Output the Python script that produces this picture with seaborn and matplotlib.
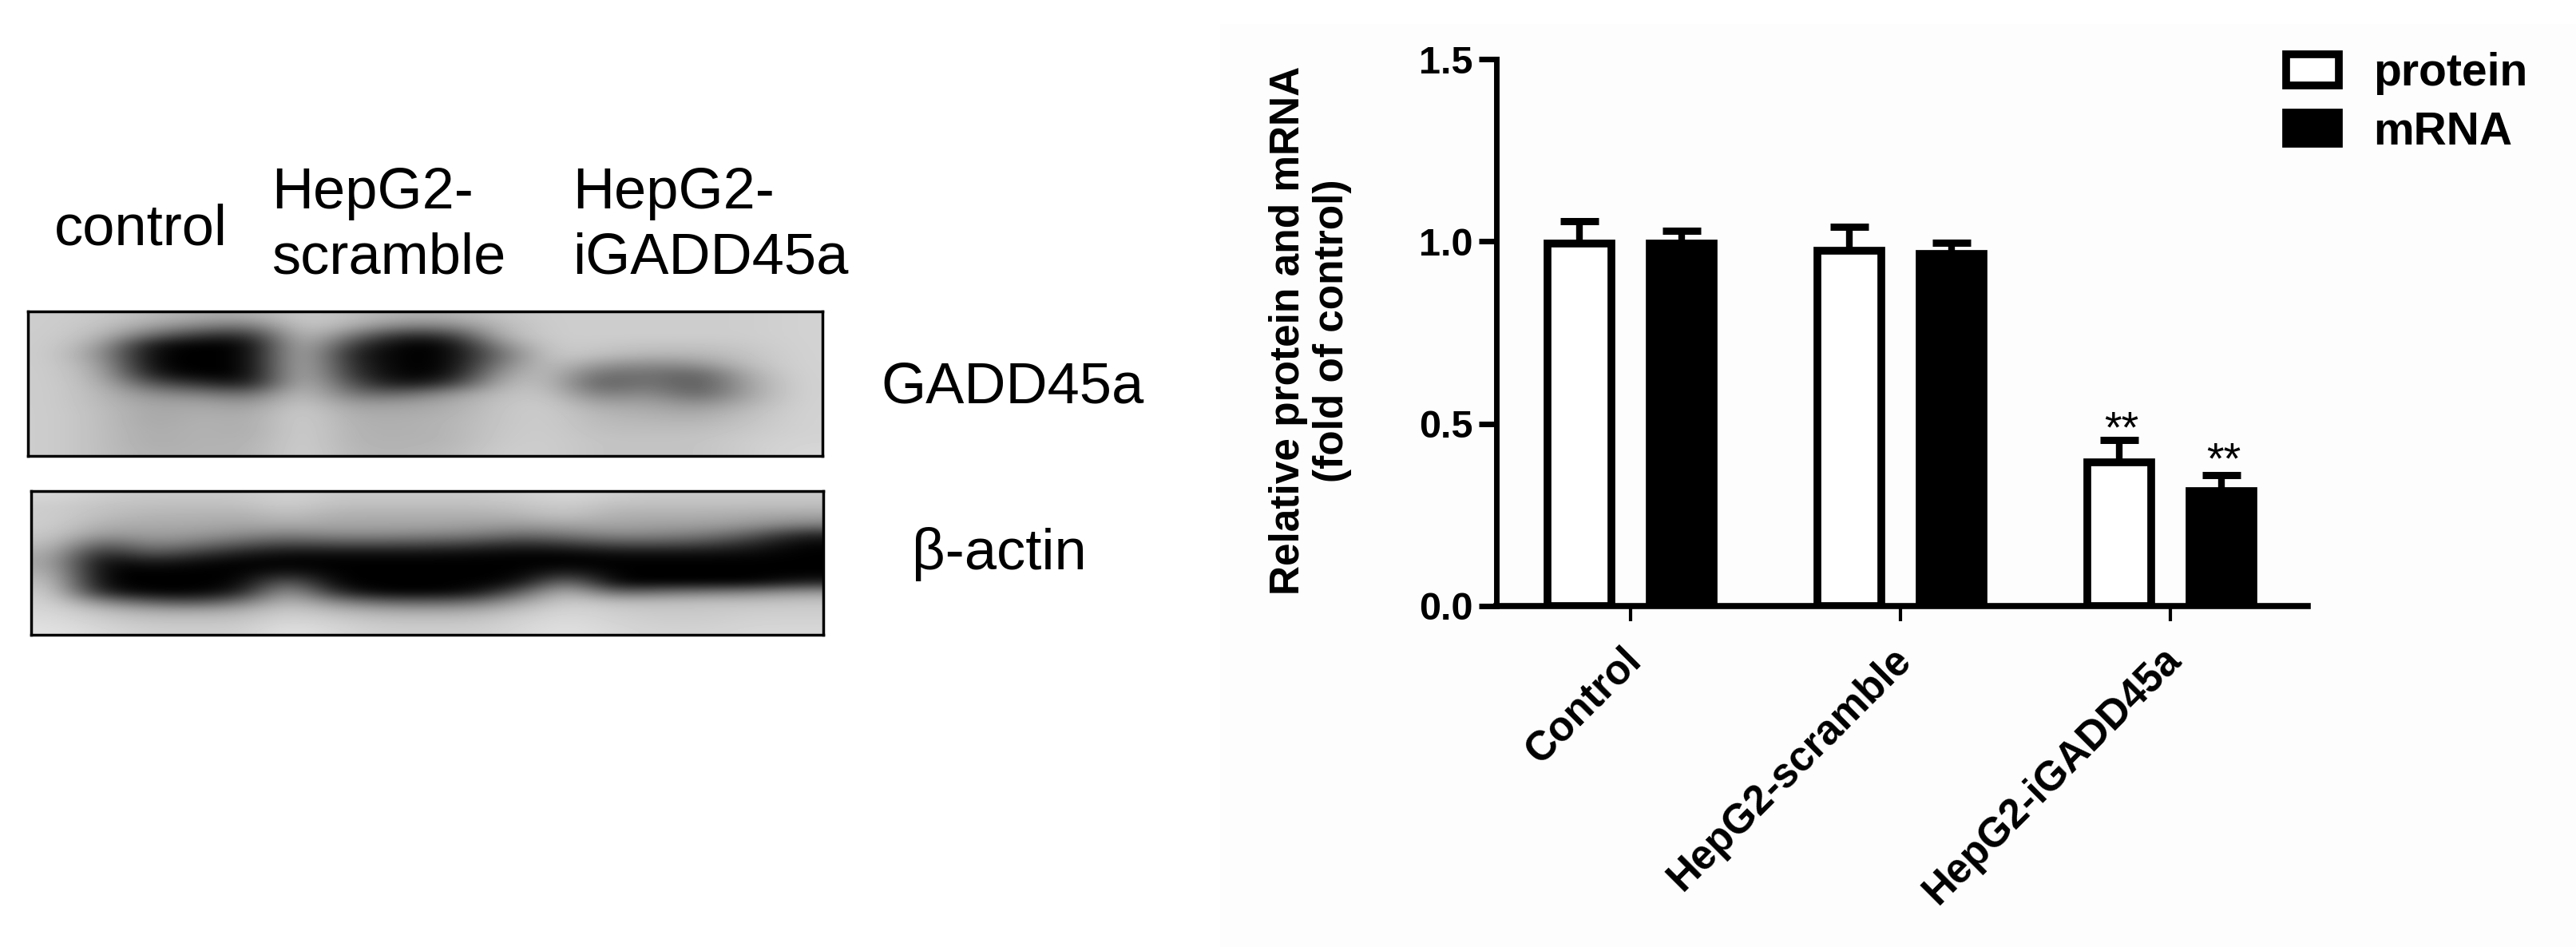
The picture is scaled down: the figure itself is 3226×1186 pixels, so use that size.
import numpy as np
import pandas as pd
import matplotlib
matplotlib.use('Agg')
import matplotlib.pyplot as plt
from matplotlib.patches import Rectangle
from matplotlib.transforms import ScaledTranslation
import seaborn as sns

# >> bar values
groups = ['Control', 'HepG2-scramble', 'HepG2-iGADD45a']
protein = [0.995, 0.975, 0.395]
mrna = [0.995, 0.965, 0.315]
protein_top = [1.055, 1.04, 0.455]
mrna_top = [1.03, 0.997, 0.36]
series = ['protein', 'mRNA']
y_ticks = [0.0, 0.5, 1.0, 1.5]
y_label = 'Relative protein and mRNA\n(fold of control)'
star_text = '**'

# >> blot grey levels (0 black, 255 white)
gadd_blot = [
    [205, 200, 185, 170, 170, 205, 190, 175, 175, 195, 205, 205, 205, 205, 205, 210],
    [205, 195, 160, 130, 110, 205, 175, 130, 130, 185, 205, 205, 205, 205, 205, 210],
    [205, 185, 100, 50, 40, 205, 120, 40, 50, 180, 205, 205, 205, 205, 205, 210],
    [205, 165, 10, 0, 0, 205, 60, 0, 0, 140, 205, 200, 195, 195, 200, 210],
    [205, 150, 0, 0, 0, 205, 30, 0, 0, 110, 205, 190, 180, 180, 195, 210],
    [205, 165, 0, 0, 0, 205, 40, 0, 0, 130, 200, 150, 140, 145, 190, 210],
    [205, 175, 20, 0, 0, 205, 50, 0, 5, 160, 195, 105, 120, 90, 175, 210],
    [205, 180, 80, 50, 15, 205, 80, 15, 50, 180, 195, 85, 125, 80, 165, 210],
    [205, 185, 135, 125, 95, 205, 110, 95, 145, 190, 200, 115, 145, 90, 165, 210],
    [205, 185, 160, 165, 145, 205, 150, 155, 170, 195, 205, 155, 165, 135, 175, 210],
    [205, 190, 165, 175, 165, 210, 170, 170, 175, 198, 205, 180, 175, 165, 190, 210],
    [205, 190, 165, 180, 170, 210, 175, 175, 180, 198, 205, 185, 185, 180, 195, 210],
    [205, 190, 170, 180, 170, 210, 178, 175, 180, 200, 205, 190, 190, 190, 200, 210],
    [205, 190, 170, 180, 175, 210, 178, 178, 180, 202, 205, 195, 195, 195, 205, 212],
    [205, 190, 175, 180, 178, 210, 182, 180, 185, 205, 205, 195, 195, 195, 205, 215],
]
actin_blot = [
    [215, 205, 200, 200, 200, 210, 200, 200, 200, 200, 205, 215, 205, 200, 200, 200, 200],
    [205, 195, 190, 190, 190, 205, 190, 190, 190, 190, 195, 205, 190, 190, 190, 190, 190],
    [205, 190, 180, 180, 175, 190, 175, 175, 175, 175, 180, 195, 175, 175, 175, 170, 165],
    [205, 175, 170, 170, 165, 170, 165, 165, 165, 160, 155, 165, 165, 160, 160, 150, 130],
    [200, 150, 160, 155, 140, 130, 140, 140, 135, 130, 110, 125, 140, 135, 125, 95, 40],
    [190, 90, 135, 120, 90, 70, 80, 80, 75, 65, 45, 60, 80, 80, 70, 40, 5],
    [175, 30, 90, 60, 30, 15, 15, 15, 15, 10, 5, 5, 15, 15, 15, 10, 0],
    [170, 0, 25, 10, 0, 0, 0, 0, 0, 0, 0, 0, 0, 0, 0, 0, 0],
    [180, 0, 0, 0, 0, 30, 0, 0, 0, 0, 0, 40, 0, 0, 0, 0, 0],
    [195, 0, 0, 0, 0, 110, 0, 0, 0, 0, 10, 130, 0, 0, 0, 0, 30],
    [205, 30, 0, 0, 25, 170, 40, 0, 0, 10, 90, 190, 90, 110, 120, 130, 150],
    [210, 130, 90, 70, 110, 190, 130, 95, 90, 100, 160, 205, 185, 185, 190, 190, 195],
    [215, 190, 170, 165, 175, 205, 185, 170, 165, 170, 195, 215, 205, 200, 200, 205, 205],
    [220, 205, 195, 195, 195, 215, 205, 195, 195, 195, 210, 220, 210, 205, 205, 210, 210],
    [225, 215, 205, 205, 205, 225, 215, 205, 205, 205, 215, 225, 215, 210, 210, 215, 215],
]
lane_names = ['control', 'HepG2-\nscramble', 'HepG2-\niGADD45a']
blot_names = ['GADD45a', '\u03b2-actin']

W, H = 3226, 1186
sns.set_theme(style='ticks')
plt.rcParams['font.family'] = ['Liberation Sans', 'DejaVu Sans']
plt.rcParams['text.color'] = 'black'
plt.rcParams['axes.labelcolor'] = 'black'
plt.rcParams['xtick.labelcolor'] = 'black'
plt.rcParams['ytick.labelcolor'] = 'black'
plt.rcParams['axes.edgecolor'] = 'black'

fig = plt.figure(figsize=(W / 100, H / 100), dpi=100, facecolor='white')


def box(x0, y0, x1, y1):
    return [x0 / W, 1 - y1 / H, (x1 - x0) / W, (y1 - y0) / H]


# very faint panel behind the bar chart
fig.add_artist(Rectangle((1528 / W, 0), 1 - 1528 / W, 1 - 30 / H, transform=fig.transFigure,
                         facecolor='#fdfdfd', edgecolor='none', zorder=-5))

# >> blots
for grid, pos in [(gadd_blot, (35, 390, 1030, 571)), (actin_blot, (39, 615, 1031, 795))]:
    a = fig.add_axes(box(*pos))
    a.imshow(np.array(grid), cmap='gray', vmin=0, vmax=255, aspect='auto', interpolation='bicubic')
    a.set_xticks([])
    a.set_yticks([])
    for s in a.spines.values():
        s.set_linewidth(2.5)
        s.set_color('black')

for name, x, y in zip(lane_names, [68, 340, 717], [288, 283, 283]):
    fig.text(x / W, 1 - y / H, name, fontsize=52, color='black', ha='left', va='center',
             linespacing=1.28)
for name, x, y in zip(blot_names, [1103, 1142], [486, 694]):
    fig.text(x / W, 1 - y / H, name, fontsize=52, color='black', ha='left', va='center')

# >> bar chart
df = pd.DataFrame({
    'group': groups * 2,
    'serie': [series[0]] * 3 + [series[1]] * 3,
    'valor': protein + mrna,
})
ax = fig.add_axes(box(1874, 74, 2890, 759))
ax.patch.set_alpha(0)
sns.barplot(data=df, x='group', y='valor', hue='serie', hue_order=series, order=groups,
            palette=['white', 'black'], edgecolor='black', linewidth=7,
            width=0.757, gap=0.375, errorbar=None, ax=ax, zorder=3)

# error bars and stars
tops = [protein_top, mrna_top]
vals = [protein, mrna]
star_gap = [0.026, 0.035]
bars = list(ax.containers)
for i, cont in enumerate(bars):
    xs = [b.get_x() + b.get_width() / 2 for b in cont]
    up = [t - v for t, v in zip(tops[i], vals[i])]
    ax.errorbar(xs, vals[i], yerr=[[0] * 3, up], fmt='none', ecolor='black', elinewidth=6,
                capsize=17, capthick=6.5, zorder=2)
    ax.annotate(star_text, (xs[2], tops[i][2] + star_gap[i]), xytext=(2, 0),
                textcoords='offset points', fontsize=40, ha='center', va='center',
                color='black', zorder=4)

ax.set_xlim(-0.497, 2.509)
ax.set_ylim(0, 1.5)
ax.set_yticks(y_ticks)
ax.set_yticklabels(['%.1f' % t for t in y_ticks], fontsize=35, fontweight='bold')
ax.tick_params(axis='y', length=16, width=5, pad=5, color='black')
ax.tick_params(axis='x', length=14, width=3, pad=29, color='black')
ax.set_xticks(range(3))
ax.set_xticklabels(groups, fontsize=37, fontweight='bold', rotation=45, ha='right',
                   va='center', rotation_mode='anchor')
shift = ScaledTranslation(4.3 / 72, 0, fig.dpi_scale_trans)
for lab in ax.get_xticklabels():
    lab.set_transform(lab.get_transform() + shift)
ax.set_xlabel('')
ax.set_ylabel(y_label, fontsize=37, fontweight='bold', linespacing=1.16, va='center')
ax.yaxis.set_label_coords((1641 - 1874) / 1016, (759 - 414) / 685)
sns.despine(ax=ax)
ax.spines['left'].set_linewidth(5)
ax.spines['bottom'].set_linewidth(5.5)
ax.spines['left'].set_zorder(5)
ax.spines['bottom'].set_zorder(5)

handles, labels = ax.get_legend_handles_labels()
leg = ax.legend(handles, labels, loc='upper left', bbox_to_anchor=(2852 / W, 1 - 54 / H),
                bbox_transform=fig.transFigure, frameon=False,
                prop={'weight': 'bold', 'size': 41}, handlelength=1.16, handleheight=0.68,
                handletextpad=0.75, labelspacing=0.34, borderpad=0.2, borderaxespad=0)

fig.savefig('out.png', dpi=100, facecolor='white')
